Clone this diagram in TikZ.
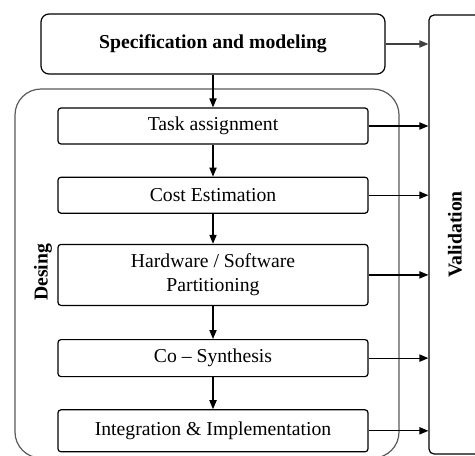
\documentclass[tikz,border=0pt]{standalone}
\usepackage{fontspec}
\setmainfont{Liberation Serif}
\usepackage{tikz}
\usetikzlibrary{shapes,arrows.meta,positioning}
\tikzstyle{arrow} = [line width=0.6pt,-{Triangle[length=4.5pt,width=3.6pt]}]
\tikzstyle{stepbox} = [draw, line width=0.6pt, rounded corners=1.5pt, minimum width=155pt, minimum height=18pt, inner sep=0pt, align=center]
\tikzstyle{bigbox} = [draw, line width=0.6pt, inner sep=0pt]

\begin{document}
\begin{tikzpicture}[
        x=0.5pt, y=-0.5pt,
        every node/.style={font=\fontsize{9.85}{12}\selectfont}
        ]
        \useasboundingbox (0,0) rectangle (475,455);
        \clip (0,0) rectangle (475,455);
        % design frame
        \node[bigbox, draw=black!65, rounded corners=13pt, minimum width=192pt, minimum height=184.5pt] (design) at (207,273.5) {};
        \node[rotate=90, font=\fontsize{9.85}{12}\selectfont\bfseries] (desing) at (43,272.5) {Desing};
        % validation
        \node[bigbox, rounded corners=2.5pt, minimum width=26pt, minimum height=219.5pt] (valid) at (455,234.5) {\rotatebox{90}{\bfseries Validation}};
        \node[bigbox, rounded corners=4pt, minimum width=172pt, minimum height=30pt, font=\fontsize{9.85}{12}\selectfont\bfseries] (spec) at (213,44) {Specification and modeling};
        % steps
        \node[stepbox] (task) at (213,126) {Task assignment};
        \node[stepbox, below=16pt of task] (cost) {Cost Estimation};
        \node[stepbox, below=15pt of cost, minimum height=30.5pt] (hwsw) {Hardware / Software\\Partitioning};
        \node[stepbox, below=16.5pt of hwsw, minimum height=18.5pt] (cosyn) {Co -- Synthesis};
        \node[stepbox, below=16pt of cosyn, minimum height=21pt] (integ) {Integration \& Implementation};
        % arrows
        \draw[arrow] (spec) -- (task);
        \draw[arrow] (task) -- (cost);
        \draw[arrow] (cost) -- (hwsw);
        \draw[arrow] (hwsw) -- (cosyn);
        \draw[arrow] (cosyn) -- (integ);
        \draw[arrow, black!75] (spec.east) -- (spec.east -| valid.west);
        \foreach \n in {task,cost,hwsw,cosyn,integ}
            \draw[arrow] (\n.east) -- (\n.east -| valid.west);
\end{tikzpicture}
\end{document}
